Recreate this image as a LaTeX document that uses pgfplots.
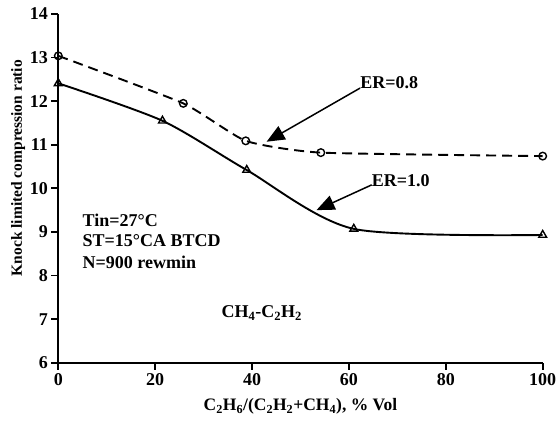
\documentclass[border=0pt]{standalone}
\usepackage{fontspec}
\setmainfont{Liberation Serif}
\usepackage{pgfplots}
\pgfplotsset{compat=1.18}
\usetikzlibrary{arrows.meta}

\newcommand{\annfont}{\fontsize{18bp}{21bp}\selectfont\bfseries}

\begin{document}
\begin{tikzpicture}
\begin{axis}[
  scale only axis,
  width=484.4bp, height=348.7bp,
  xmin=0, xmax=100, ymin=6, ymax=14,
  axis lines*=left,
  axis line style={line width=1.8bp},
  xtick={0,20,...,100}, ytick={6,7,...,14},
  tick align=outside, major tick length=7bp,
  tick style={line width=1.8bp, black},
  /pgf/number format/assume math mode=true,
  ticklabel style={font=\annfont},
  xlabel={C\textsubscript{2}H\textsubscript{6}/(C\textsubscript{2}H\textsubscript{2}+CH\textsubscript{4}), \% Vol},
  ylabel={Knock limited compression ratio},
  xlabel style={font=\fontsize{17.5bp}{20bp}\selectfont\bfseries,
    at={(axis description cs:0.5,-0.126)}, anchor=center},
  ylabel style={font=\fontsize{15.5bp}{18bp}\selectfont\bfseries,
    at={(axis description cs:-0.083,0.558)}, anchor=center},
  clip=false,
]
% ER = 0.8
\addplot[black, line width=1.9bp, dash pattern=on 10bp off 6bp, smooth, tension=0.3,
  mark=o, mark size=3.8bp, mark options={solid, line width=1.4bp, fill=white}]
  coordinates {(0,13.04) (25.8,11.95) (38.7,11.09) (54.2,10.82) (100,10.74)};
% ER = 1.0
\addplot[black, line width=1.9bp, smooth, tension=0.45,
  mark=triangle, mark size=4.5bp, mark options={solid, line width=1.4bp, fill=white}]
  coordinates {(0,12.41) (21.5,11.55) (38.9,10.42) (61.0,9.07) (100,8.93)};

\draw[line width=1.5bp, -{Triangle[length=18bp,width=15bp]}]
  (axis cs:62.3,12.30) -- (axis cs:43.0,11.07);
\node[anchor=base west, inner sep=0pt, font=\annfont] at (axis cs:62.3,12.30) {ER=0.8};
\draw[line width=1.5bp, -{Triangle[length=18bp,width=15bp]}]
  (axis cs:64.7,10.08) -- (axis cs:53.3,9.50);
\node[anchor=base west, inner sep=0pt, font=\annfont] at (axis cs:64.7,10.04) {ER=1.0};

\node[anchor=west, inner sep=0pt, font=\annfont] at (axis cs:5.0,9.27) {Tin=27°C};
\node[anchor=west, inner sep=0pt, font=\annfont] at (axis cs:5.0,8.79) {ST=15°CA BTCD};
\node[anchor=west, inner sep=0pt, font=\annfont] at (axis cs:5.0,8.31) {N=900 rewmin};
\node[anchor=center, inner sep=0pt, font=\annfont] at (axis cs:42,7.14)
  {CH\textsubscript{4}-C\textsubscript{2}H\textsubscript{2}};
\end{axis}
\pgfresetboundingbox
\path[use as bounding box] ([shift={(-58.3bp,-60.3bp)}]current axis.south west) rectangle ++(557bp,423bp);
\end{tikzpicture}
\end{document}
